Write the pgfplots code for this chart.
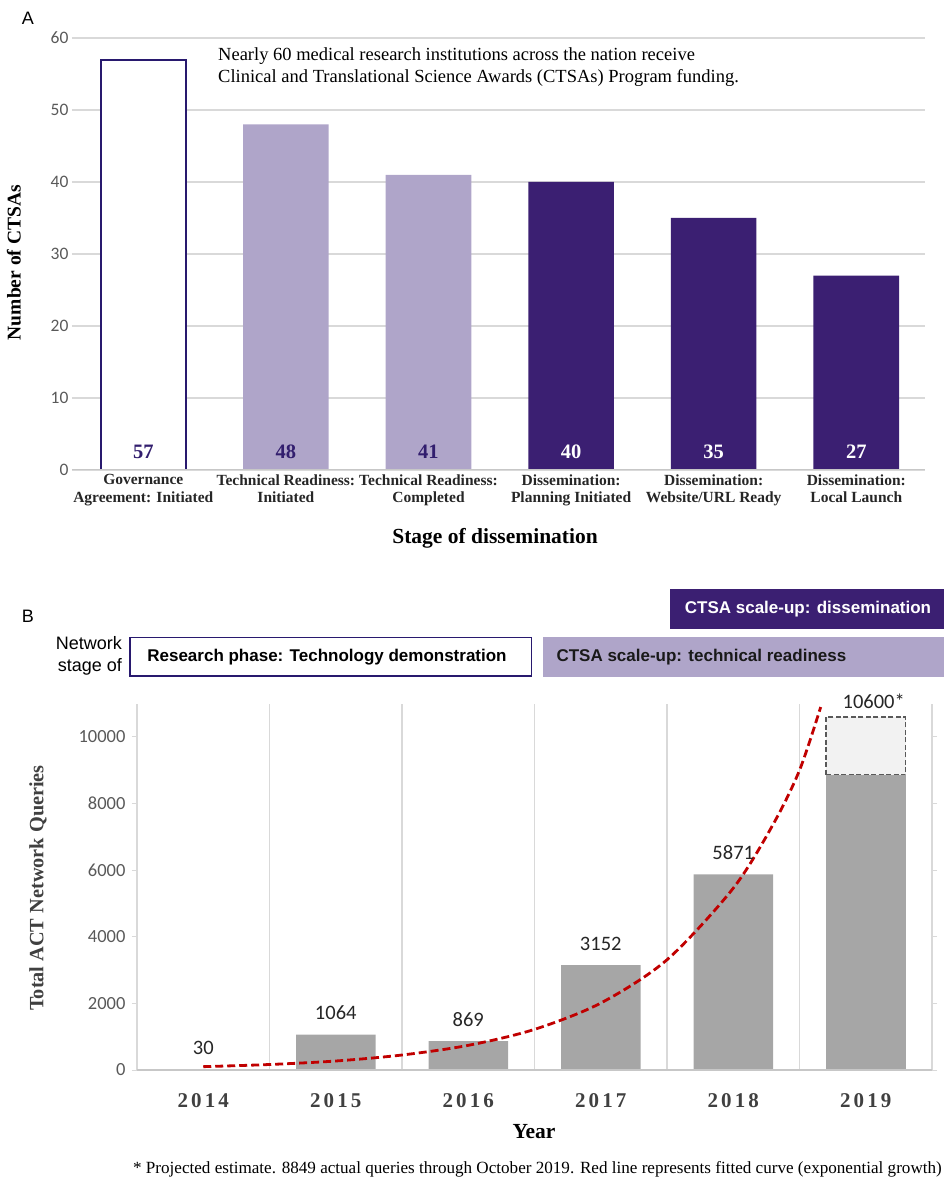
\documentclass[border=0pt]{standalone}
\usepackage{fontspec}
\setmainfont{Liberation Serif}
\newfontfamily\arial{Liberation Sans}
\newfontfamily\carlito{Carlito}
\newfontfamily\spacedserif[LetterSpace=15]{Liberation Serif}
\usepackage{pgfplots}
\pgfplotsset{compat=1.18}

\definecolor{ctsadark}{RGB}{59,31,114}
\definecolor{ctsalight}{RGB}{175,165,201}
\definecolor{ctsaborder}{RGB}{40,25,110}
\definecolor{ctsatext}{RGB}{50,30,110}
\definecolor{bargray}{RGB}{166,166,166}
\definecolor{boxgray}{RGB}{242,242,242}
\definecolor{dashgray}{RGB}{89,89,89}
\definecolor{tickgray}{RGB}{89,89,89}
\definecolor{gridgray}{RGB}{217,217,217}
\definecolor{labelgray}{RGB}{64,64,64}
\definecolor{fitred}{RGB}{192,0,0}

\begin{document}
\begin{tikzpicture}[x=1pt,y=1pt]
\useasboundingbox (0,0) rectangle (944,1179);

% ---------------- panel A ----------------
\node[font=\arial\fontsize{18}{18}\selectfont] at (28,1161) {A};
\begin{axis}[
    at={(72pt,709pt)}, anchor=south west, scale only axis,
    width=853pt, height=432pt,
    xmin=-0.5, xmax=5.482, ymin=0, ymax=60,
    axis line style={draw=none},
    tick style={draw=none},
    ytick={0,10,...,60},
    ymajorgrids,
    grid style={draw=gridgray, line width=1.2pt},
    xtick={0,...,5},
    xticklabels={Governance\\Agreement: Initiated,
                 Technical Readiness:\\Initiated,
                 Technical Readiness:\\Completed,
                 Dissemination:\\Planning Initiated,
                 Dissemination:\\Website/URL Ready,
                 Dissemination:\\Local Launch},
    xticklabel style={align=center, text=black!85,
        font=\bfseries\fontsize{15.5}{17.3}\selectfont, yshift=-1pt},
    yticklabel style={font=\carlito\fontsize{17.5}{18}\selectfont, text=tickgray},
    /pgf/number format/assume math mode=true,
    ylabel={Number of CTSAs},
    ylabel style={at={(axis description cs:-0.068,0.48)}, anchor=center,
        font=\bfseries\fontsize{19.5}{20}\selectfont},
    xlabel={Stage of dissemination},
    xlabel style={at={(axis description cs:0.496,-0.157)}, anchor=center,
        font=\bfseries\fontsize{21.5}{22}\selectfont},
]
\addplot[ybar, bar width=0.6, bar shift=0pt, fill=white, draw=ctsaborder, line width=2pt]
    coordinates {(0,57)};
\addplot[ybar, bar width=0.6, bar shift=0pt, fill=ctsalight, draw=none]
    coordinates {(1,48) (2,41)};
\addplot[ybar, bar width=0.6, bar shift=0pt, fill=ctsadark, draw=none]
    coordinates {(3,40) (4,35) (5,27)};
\draw[draw=gridgray!80!gray, line width=1.5pt] (axis cs:-0.5,0) -- (axis cs:5.482,0);
% value labels at the foot of the bars
\addplot[draw=none, mark=none, nodes near coords, point meta=explicit symbolic,
    nodes near coords style={anchor=center, yshift=18pt, text=ctsatext,
        font=\bfseries\fontsize{20.5}{20}\selectfont}]
    coordinates {(0,0) [57] (1,0) [48] (2,0) [41]};
\addplot[draw=none, mark=none, nodes near coords, point meta=explicit symbolic,
    nodes near coords style={anchor=center, yshift=18pt, text=white,
        font=\bfseries\fontsize{20.5}{20}\selectfont}]
    coordinates {(3,0) [40] (4,0) [35] (5,0) [27]};
\end{axis}
\node[anchor=west, align=left, inner sep=0pt, font=\fontsize{18.5}{22}\selectfont]
    at (218,1112) {Nearly 60 medical research institutions across the nation receive\\
    Clinical and Translational Science Awards (CTSAs) Program funding.};

% ---------------- panel B ----------------
\node[font=\arial\fontsize{18}{18}\selectfont] at (28,563) {B};
\fill[ctsadark] (670,550) rectangle (944,590);
\node[text=white, font=\arial\bfseries\fontsize{17}{17}\selectfont] at (808,570)
    {CTSA scale-up: dissemination};
\draw[ctsaborder, line width=1.5pt, fill=white] (129.75,502.75) rectangle (531.25,541.25);
\node[font=\arial\bfseries\fontsize{17}{17}\selectfont] at (327,522)
    {Research phase: Technology demonstration};
\fill[ctsalight] (543,502) rectangle (944,542);
\node[anchor=west, text=black!90, font=\arial\bfseries\fontsize{17}{17}\selectfont] at (553,522)
    {CTSA scale-up: technical readiness};
\node[anchor=east, align=right, inner sep=0pt, font=\arial\fontsize{18}{22}\selectfont]
    at (122,523) {Network\\stage of};

\begin{axis}[
    at={(137pt,109pt)}, anchor=south west, scale only axis,
    width=795pt, height=366.3pt,
    xmin=-0.5, xmax=5.5, ymin=0, ymax=11000,
    axis line style={draw=none},
    xtick={0,...,5},
    xticklabels={2014,2015,2016,2017,2018,2019},
    x tick style={draw=none},
    minor xtick={-0.5,0.5,...,5.5},
    minor tick length=0pt,
    xminorgrids,
    minor grid style={draw=gridgray, line width=1.2pt},
    ytick={0,2000,...,10000},
    y tick style={draw=gridgray, line width=1pt},
    tick align=outside, major tick length=5pt,
    scaled y ticks=false,
    /pgf/number format/1000 sep={},
    /pgf/number format/assume math mode=true,
    yticklabel style={font=\carlito\fontsize{18.5}{18}\selectfont, text=tickgray, xshift=-3pt},
    xticklabel style={font=\spacedserif\bfseries\fontsize{21}{21}\selectfont, text=labelgray,
        anchor=center, yshift=-26pt},
    ylabel={Total ACT Network Queries},
    ylabel style={at={(axis description cs:-0.1245,0.497)}, anchor=center, text=labelgray,
        font=\bfseries\fontsize{20.3}{20}\selectfont},
    xlabel={Year},
    xlabel style={at={(axis description cs:0.4994,-0.169)}, anchor=center,
        font=\bfseries\fontsize{21.5}{22}\selectfont},
]
\addplot[ybar, bar width=0.6, bar shift=0pt, fill=bargray, draw=none,
    nodes near coords, point meta=explicit symbolic,
    nodes near coords style={anchor=center, yshift=21.5pt, text=black!85,
        font=\carlito\fontsize{20.5}{20}\selectfont}]
    coordinates {(0,30) [30] (1,1064) [1064] (2,869) [869] (3,3152) [3152] (4,5871) [5871]};
% 2019: projected part as a dashed box above the actual queries
\addplot[draw=dashgray, fill=boxgray, line width=1.8pt, dash pattern=on 5pt off 2.5pt]
    coordinates {(4.7,8849) (5.3,8849) (5.3,10600) (4.7,10600)} -- cycle;
\addplot[ybar, bar width=0.6, bar shift=0pt, fill=bargray, draw=none]
    coordinates {(5,8849)};
\addplot[draw=none, mark=none, nodes near coords, point meta=explicit symbolic,
    nodes near coords style={anchor=center, yshift=16pt, xshift=8pt, text=black!85,
        font=\carlito\fontsize{20.5}{20}\selectfont}]
    coordinates {(5,10600) [10600*]};
\draw[draw=gridgray!80!gray, line width=1.5pt] (axis cs:-0.5,0) -- (axis cs:5.5,0);
% fitted exponential curve
\addplot[smooth, draw=fitred, line width=2.8pt, dash pattern=on 8pt off 4pt]
    coordinates {(0,100) (0.5,165) (1,270) (1.5,450) (2,740) (2.5,1220)
                 (3,2010) (3.5,3310) (4,5460) (4.3,7370) (4.5,9000) (4.66,10900)};
\end{axis}

\node[anchor=east, inner sep=0pt, font=\fontsize{17.1}{18}\selectfont] at (942,10)
    {* Projected estimate. 8849 actual queries through October 2019. Red line represents fitted curve (exponential growth)};
\end{tikzpicture}
\end{document}
